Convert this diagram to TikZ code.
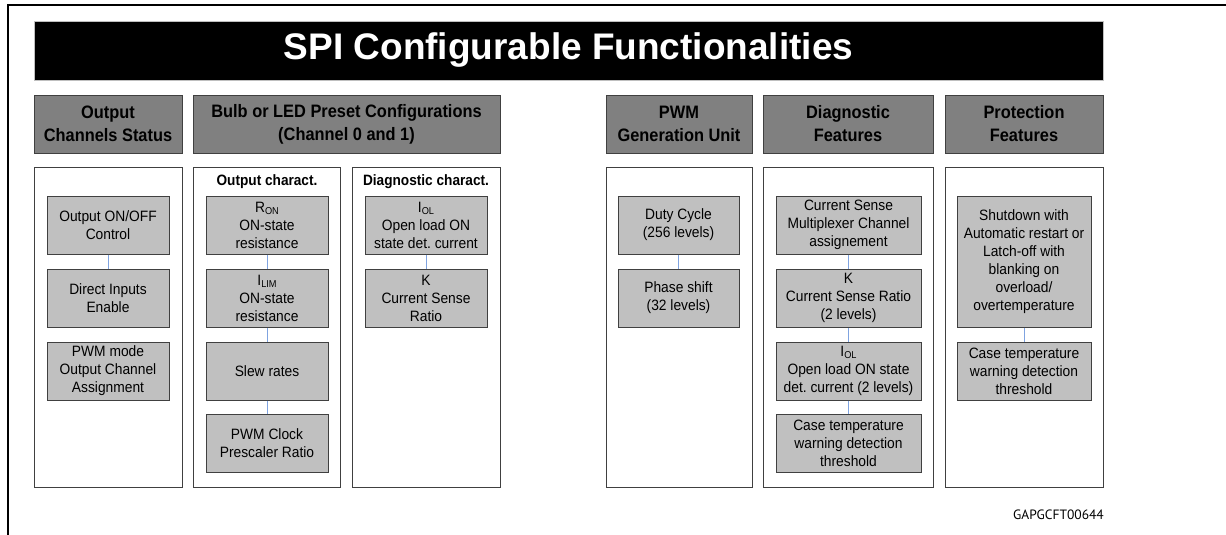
\documentclass[tikz,border=0pt]{standalone}
\usepackage{fontspec}
\setmainfont{Liberation Sans}
\newfontfamily\itemfont{Liberation Sans}[FakeStretch=0.92]
\newfontfamily\hdrfont{Liberation Sans}[FakeStretch=0.91]
\newfontfamily\codefont{PT Sans}
\frenchspacing
\definecolor{hdrgray}{HTML}{808080}
\definecolor{itemgray}{HTML}{C0C0C0}
\definecolor{edgegray}{HTML}{404040}
\definecolor{linkblue}{HTML}{7FA3E0}
\newcommand\lsub[1]{\raisebox{-0.25ex}{\fontsize{10}{10}\selectfont #1}}
\begin{document}
\begin{tikzpicture}[x=1pt,y=-1pt,
  frameline/.style={line width=2pt, draw=black},
  titlebar/.style={fill=black, draw=gray!50, line width=0.8pt, inner sep=0pt, text=white,
    minimum width=1069pt, minimum height=59pt, font=\fontsize{37}{40}\selectfont\bfseries},
  header/.style={fill=hdrgray, draw=edgegray, line width=1pt, inner sep=0pt, align=center,
    minimum height=58pt, font=\hdrfont\fontsize{18}{23}\selectfont\bfseries},
  panel/.style={draw=edgegray, line width=1pt, fill=white, inner sep=0pt, minimum height=320pt},
  item/.style={fill=itemgray, draw=edgegray, line width=1pt, inner sep=0pt, align=center,
    minimum height=58pt, font=\itemfont\fontsize{15}{18}\selectfont\frenchspacing},
  subtitle/.style={font=\hdrfont\fontsize{15}{17}\selectfont\bfseries, inner sep=0pt},
  link/.style={draw=linkblue, line width=1pt},
]
\useasboundingbox (0,0) rectangle (1226,535);
\coordinate (fbl) at (8,535);
\coordinate (ftl) at (8,5);
\coordinate (ftr) at (1226,5);
\draw[frameline] (fbl) -- (ftl) -- (ftr);

\node[titlebar] (title) at (568.5,50.5) {SPI Configurable Functionalities};

% headers
\node[header, minimum width=148pt] (h1) at (108,124) {Output\\Channels Status};
\node[header, minimum width=307pt] (h2) at (346.5,124) {Bulb or LED Preset Configurations\\(Channel 0 and 1)};
\node[header, minimum width=146pt] (h3) at (679,124) {PWM\\Generation Unit};
\node[header, minimum width=170pt] (h4) at (848,124) {Diagnostic\\Features};
\node[header, minimum width=158pt] (h5) at (1024,124) {Protection\\Features};

% panels
\node[panel, minimum width=148pt] (p1) at (108,327) {};
\node[panel, minimum width=147pt] (p2a) at (266.5,327) {};
\node[panel, minimum width=148pt] (p2b) at (426,327) {};
\node[panel, minimum width=146pt] (p3) at (679,327) {};
\node[panel, minimum width=170pt] (p4) at (848,327) {};
\node[panel, minimum width=158pt] (p5) at (1024,327) {};

\node[subtitle] (s2a) at (267,182) {Output charact.};
\node[subtitle] (s2b) at (426,182) {Diagnostic charact.};

% column 1
\node[item, minimum width=122pt] (a1) at (108,225) {Output ON/OFF\\Control};
\node[item, minimum width=122pt] (a2) at (108,298) {Direct Inputs\\Enable};
\node[item, minimum width=122pt] (a3) at (108,371) {PWM mode\\Output Channel\\Assignment};
\draw[link] (a1) -- (a2);

% column 2a
\node[item, minimum width=122pt] (b1) at (267,225) {R\lsub{ON}\\ON-state\\resistance};
\node[item, minimum width=122pt] (b2) at (267,298) {I\lsub{LIM}\\ON-state\\resistance};
\node[item, minimum width=122pt] (b3) at (267,371) {Slew rates};
\node[item, minimum width=122pt] (b4) at (267,443) {PWM Clock\\Prescaler Ratio};
\draw[link] (b1) -- (b2);
\draw[link] (b2) -- (b3);
\draw[link] (b3) -- (b4);

% column 2b
\node[item, minimum width=122pt] (c1) at (426,225) {I\lsub{OL}\\Open load ON\\state det. current};
\node[item, minimum width=122pt] (c2) at (426,298) {K\\Current Sense\\Ratio};
\draw[link] (c1) -- (c2);

% column 3
\node[item, minimum width=121pt] (d1) at (678.5,225) {Duty Cycle\\(256 levels)};
\node[item, minimum width=121pt] (d2) at (678.5,298) {Phase shift\\(32 levels)};
\draw[link] (d1) -- (d2);

% column 4
\node[item, minimum width=145pt] (e1) at (848.5,225) {Current Sense\\Multiplexer Channel\\assignement};
\node[item, minimum width=145pt] (e2) at (848.5,298) {K\\Current Sense Ratio\\(2 levels)};
\node[item, minimum width=145pt] (e3) at (848.5,371) {I\lsub{OL}\\Open load ON state\\det. current (2 levels)};
\node[item, minimum width=145pt] (e4) at (848.5,443) {Case temperature\\warning detection\\threshold};
\draw[link] (e1) -- (e2);
\draw[link] (e2) -- (e3);
\draw[link] (e3) -- (e4);

% column 5
\node[item, minimum width=134pt, minimum height=131pt] (f1) at (1024,261.5) {Shutdown with\\Automatic restart or\\Latch-off with\\blanking on\\overload/\\overtemperature};
\node[item, minimum width=134pt] (f2) at (1024,371) {Case temperature\\warning detection\\threshold};
\draw[link] (f1) -- (f2);

\node[anchor=base east, inner sep=0pt, font=\codefont\fontsize{13.5}{15}\selectfont] (code) at (1104,519) {GAPGCFT00644};
\end{tikzpicture}
\end{document}
